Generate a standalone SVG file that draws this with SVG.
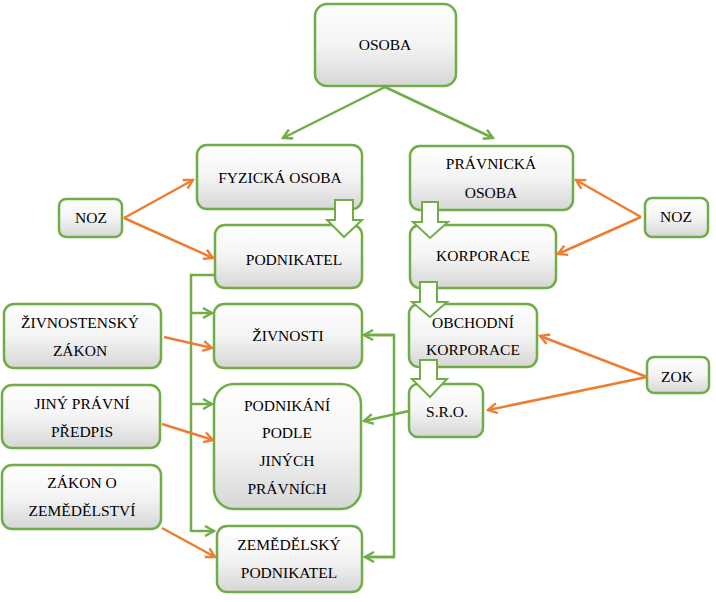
<svg xmlns="http://www.w3.org/2000/svg" width="716" height="602" viewBox="0 0 716 602">
<defs>
<linearGradient id="g" x1="0" y1="0" x2="0" y2="1">
<stop offset="0" stop-color="#ffffff"/>
<stop offset="0.5" stop-color="#f4f4f4"/>
<stop offset="1" stop-color="#d6d6d6"/>
</linearGradient>
<marker id="ag" viewBox="0 0 12 12" refX="10" refY="6" markerWidth="12" markerHeight="12" markerUnits="userSpaceOnUse" orient="auto">
<polyline points="1,1 10,6 1,11" fill="none" stroke="#70ad47" stroke-width="2.4"/>
</marker>
<marker id="ao" viewBox="0 0 12 12" refX="10" refY="6" markerWidth="12" markerHeight="12" markerUnits="userSpaceOnUse" orient="auto">
<polyline points="1,1 10,6 1,11" fill="none" stroke="#ed7d31" stroke-width="2.4"/>
</marker>
</defs>
<style>
.b{fill:url(#g);stroke:#70ad47;stroke-width:2.5}
text{font-family:"Liberation Serif","Times New Roman","DejaVu Serif",serif;font-size:15.5px;fill:#000;text-anchor:middle}
.gl{fill:none;stroke:#70ad47;stroke-width:2.5}
.ol{fill:none;stroke:#ed7d31;stroke-width:2.5}
.ba{fill:#fff;stroke:#70ad47;stroke-width:2}
</style>
<rect width="716" height="602" fill="#fff"/>
<g id="osoba"><rect class="b" x="315" y="4" width="141" height="82" rx="12"/><text x="385" y="50">OSOBA</text></g>
<g id="fyzicka"><rect class="b" x="197" y="145" width="165" height="64" rx="10"/><text x="280" y="183">FYZICKÁ OSOBA</text></g>
<g id="pravnicka"><rect class="b" x="410" y="146" width="163" height="64" rx="10"/><text x="491" y="169">PRÁVNICKÁ</text><text x="491" y="198">OSOBA</text></g>
<g id="podnikatel"><rect class="b" x="215" y="225" width="147" height="63" rx="10"/><text x="294" y="265">PODNIKATEL</text></g>
<g id="korporace"><rect class="b" x="410" y="225" width="146" height="63" rx="10"/><text x="483" y="261">KORPORACE</text></g>
<g id="obchodni"><rect class="b" x="409" y="304" width="128" height="63" rx="10"/><text x="473" y="328">OBCHODNÍ</text><text x="473" y="355">KORPORACE</text></g>
<g id="sro"><rect class="b" x="409" y="384" width="74" height="53" rx="9"/><text x="447" y="417">S.R.O.</text></g>
<g id="zok"><rect class="b" x="647" y="357" width="62" height="36" rx="7"/><text x="677" y="382">ZOK</text></g>
<g id="noz-left"><rect class="b" x="59" y="199" width="63" height="38" rx="7"/><text x="91" y="223">NOZ</text></g>
<g id="noz-right"><rect class="b" x="645" y="198" width="63" height="39" rx="7"/><text x="676" y="222">NOZ</text></g>
<g id="zivnostensky"><rect class="b" x="4" y="304" width="157" height="64" rx="10"/><text x="80" y="328">ŽIVNOSTENSKÝ</text><text x="80" y="356">ZÁKON</text></g>
<g id="zivnosti"><rect class="b" x="214" y="304" width="148" height="64" rx="10"/><text x="288" y="341">ŽIVNOSTI</text></g>
<g id="jiny"><rect class="b" x="2" y="385" width="158" height="63" rx="10"/><text x="82" y="409">JINÝ PRÁVNÍ</text><text x="82" y="437">PŘEDPIS</text></g>
<g id="podnikani"><rect class="b" x="214" y="384" width="147" height="125" rx="20"/><text x="287" y="411">PODNIKÁNÍ</text><text x="287" y="438">PODLE</text><text x="287" y="466">JINÝCH</text><text x="287" y="494">PRÁVNÍCH</text></g>
<g id="zakon-zemedelstvi"><rect class="b" x="2" y="465" width="159" height="64" rx="10"/><text x="82" y="488">ZÁKON O</text><text x="82" y="516">ZEMĚDĚLSTVÍ</text></g>
<g id="zemedelsky"><rect class="b" x="217" y="526" width="145" height="66" rx="10"/><text x="289" y="550">ZEMĚDĚLSKÝ</text><text x="289" y="578">PODNIKATEL</text></g>
<g id="connectors">
<line class="gl" x1="385" y1="87" x2="283" y2="138" marker-end="url(#ag)"/>
<line class="gl" x1="385" y1="87" x2="493" y2="138" marker-end="url(#ag)"/>
<path class="ba" d="M335,200 H353 V220 H362 L344,237 L327,220 H335 Z"/>
<path class="ba" d="M422,202 H438 V222 H448 L430,238 L413,222 H422 Z"/>
<path class="ba" d="M420,282 H437 V302 H447 L430,317 L412,302 H420 Z"/>
<path class="ba" d="M420,360 H437 V379 H447 L430,397 L412,379 H420 Z"/>
<polyline class="gl" points="215,275 191,275 191,532"/>
<line class="gl" x1="191" y1="313" x2="212" y2="313" marker-end="url(#ag)"/>
<line class="gl" x1="191" y1="404" x2="212" y2="404" marker-end="url(#ag)"/>
<line class="gl" x1="191" y1="531" x2="214" y2="531" marker-end="url(#ag)"/>
<polyline class="gl" points="364,335 394,335 394,557 365,557"/>
<line class="gl" x1="394" y1="335" x2="364" y2="335" marker-end="url(#ag)"/>
<line class="gl" x1="394" y1="557" x2="365" y2="557" marker-end="url(#ag)"/>
<line class="gl" x1="409" y1="411" x2="364" y2="421" marker-end="url(#ag)"/>
<line class="ol" x1="124" y1="218" x2="193" y2="180" marker-end="url(#ao)"/>
<line class="ol" x1="124" y1="218" x2="213" y2="258" marker-end="url(#ao)"/>
<line class="ol" x1="641" y1="217" x2="576" y2="180" marker-end="url(#ao)"/>
<line class="ol" x1="641" y1="217" x2="558" y2="254" marker-end="url(#ao)"/>
<line class="ol" x1="647" y1="377" x2="540" y2="336" marker-end="url(#ao)"/>
<line class="ol" x1="647" y1="377" x2="488" y2="410" marker-end="url(#ao)"/>
<line class="ol" x1="164" y1="337" x2="212" y2="348" marker-end="url(#ao)"/>
<line class="ol" x1="162" y1="424" x2="213" y2="440" marker-end="url(#ao)"/>
<line class="ol" x1="162" y1="528" x2="215" y2="557" marker-end="url(#ao)"/>
</g>
</svg>
